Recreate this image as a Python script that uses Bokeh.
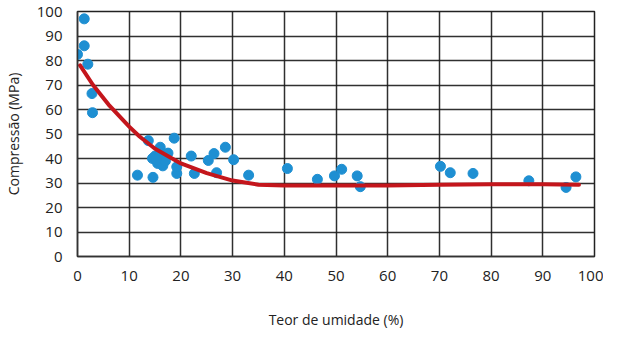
from bokeh.plotting import figure
from bokeh.models import Range1d, FixedTicker
from bokeh.embed import file_html
from bokeh.resources import INLINE

# Scatter data: moisture content (%) vs compression (MPa)
moisture = [1.3, 1.3, 0.0, 2.0, 2.8, 2.9,
            13.7, 18.7, 16.0, 17.5, 15.0, 15.5, 14.5, 16.5, 17.0, 16.0, 15.2,
            11.6, 14.6, 19.2, 19.2, 22.0, 22.6, 25.3, 26.4, 26.9, 28.6, 30.2, 33.1,
            40.6, 46.4, 49.7, 51.1, 54.1, 54.7,
            70.2, 72.1, 76.5, 87.3, 94.5, 96.4]
compression = [97.0, 86.0, 82.5, 78.5, 66.5, 58.7,
               47.3, 48.3, 44.6, 42.2, 41.0, 38.0, 40.0, 37.0, 39.0, 42.0, 39.5,
               33.2, 32.3, 33.9, 36.6, 41.0, 33.9, 39.2, 42.0, 34.2, 44.6, 39.5, 33.2,
               35.9, 31.5, 32.9, 35.6, 32.9, 28.5,
               36.8, 34.2, 33.9, 30.9, 28.2, 32.5]

# Trend curve
curve_x = [0.5, 3, 6, 10, 12, 15, 20, 25, 30, 35, 40, 50, 60, 70, 80, 90, 97]
curve_y = [78.0, 70.0, 62.0, 53.0, 49.0, 44.0, 38.0, 34.0, 31.0, 29.3, 29.0, 29.0, 29.0, 29.3, 29.5, 29.5, 29.3]

x_ticks = list(range(0, 101, 10))
y_ticks = list(range(0, 101, 10))
x_title = "Teor de umidade (%)"
y_title = "Compressão (MPa)"

p = figure(width=603, height=331, output_backend="svg", toolbar_location=None,
           x_range=Range1d(0, 100), y_range=Range1d(0, 100),
           min_border_left=69, min_border_right=9, min_border_top=11, min_border_bottom=75)

p.background_fill_color = "white"
p.border_fill_color = "white"
p.outline_line_color = "#222222"
p.outline_line_width = 1.5

for ax, ticks, title in ((p.xaxis, x_ticks, x_title), (p.yaxis, y_ticks, y_title)):
    ax.ticker = FixedTicker(ticks=ticks)
    ax.major_tick_line_color = None
    ax.minor_tick_line_color = None
    ax.axis_line_color = "#333333"
    ax.axis_line_width = 1.5
    ax.major_label_text_font = "Open Sans"
    ax.major_label_text_font_size = "15px"
    ax.major_label_text_color = "#222222"
    ax.axis_label = title
    ax.axis_label_text_font = "Open Sans"
    ax.axis_label_text_font_size = "14px"
    ax.axis_label_text_font_style = "normal"
    ax.axis_label_text_color = "#222222"

p.yaxis.major_label_standoff = 9
p.yaxis.axis_label_standoff = 11
p.xaxis.major_label_standoff = 8
p.xaxis.axis_label_standoff = 26

p.xgrid.ticker = FixedTicker(ticks=x_ticks)
p.ygrid.ticker = FixedTicker(ticks=y_ticks)
for g in (p.xgrid, p.ygrid):
    g.grid_line_color = "#1a1a1a"
    g.grid_line_width = 1.5
    g.grid_line_alpha = 0.9

p.scatter(moisture, compression, size=10, fill_color="#1e8fd2", line_color="#1e8fd2")
p.line(curve_x, curve_y, line_width=4, line_color="#c4161c", line_cap="round")

open("out.html", "w").write(file_html(p, INLINE))
